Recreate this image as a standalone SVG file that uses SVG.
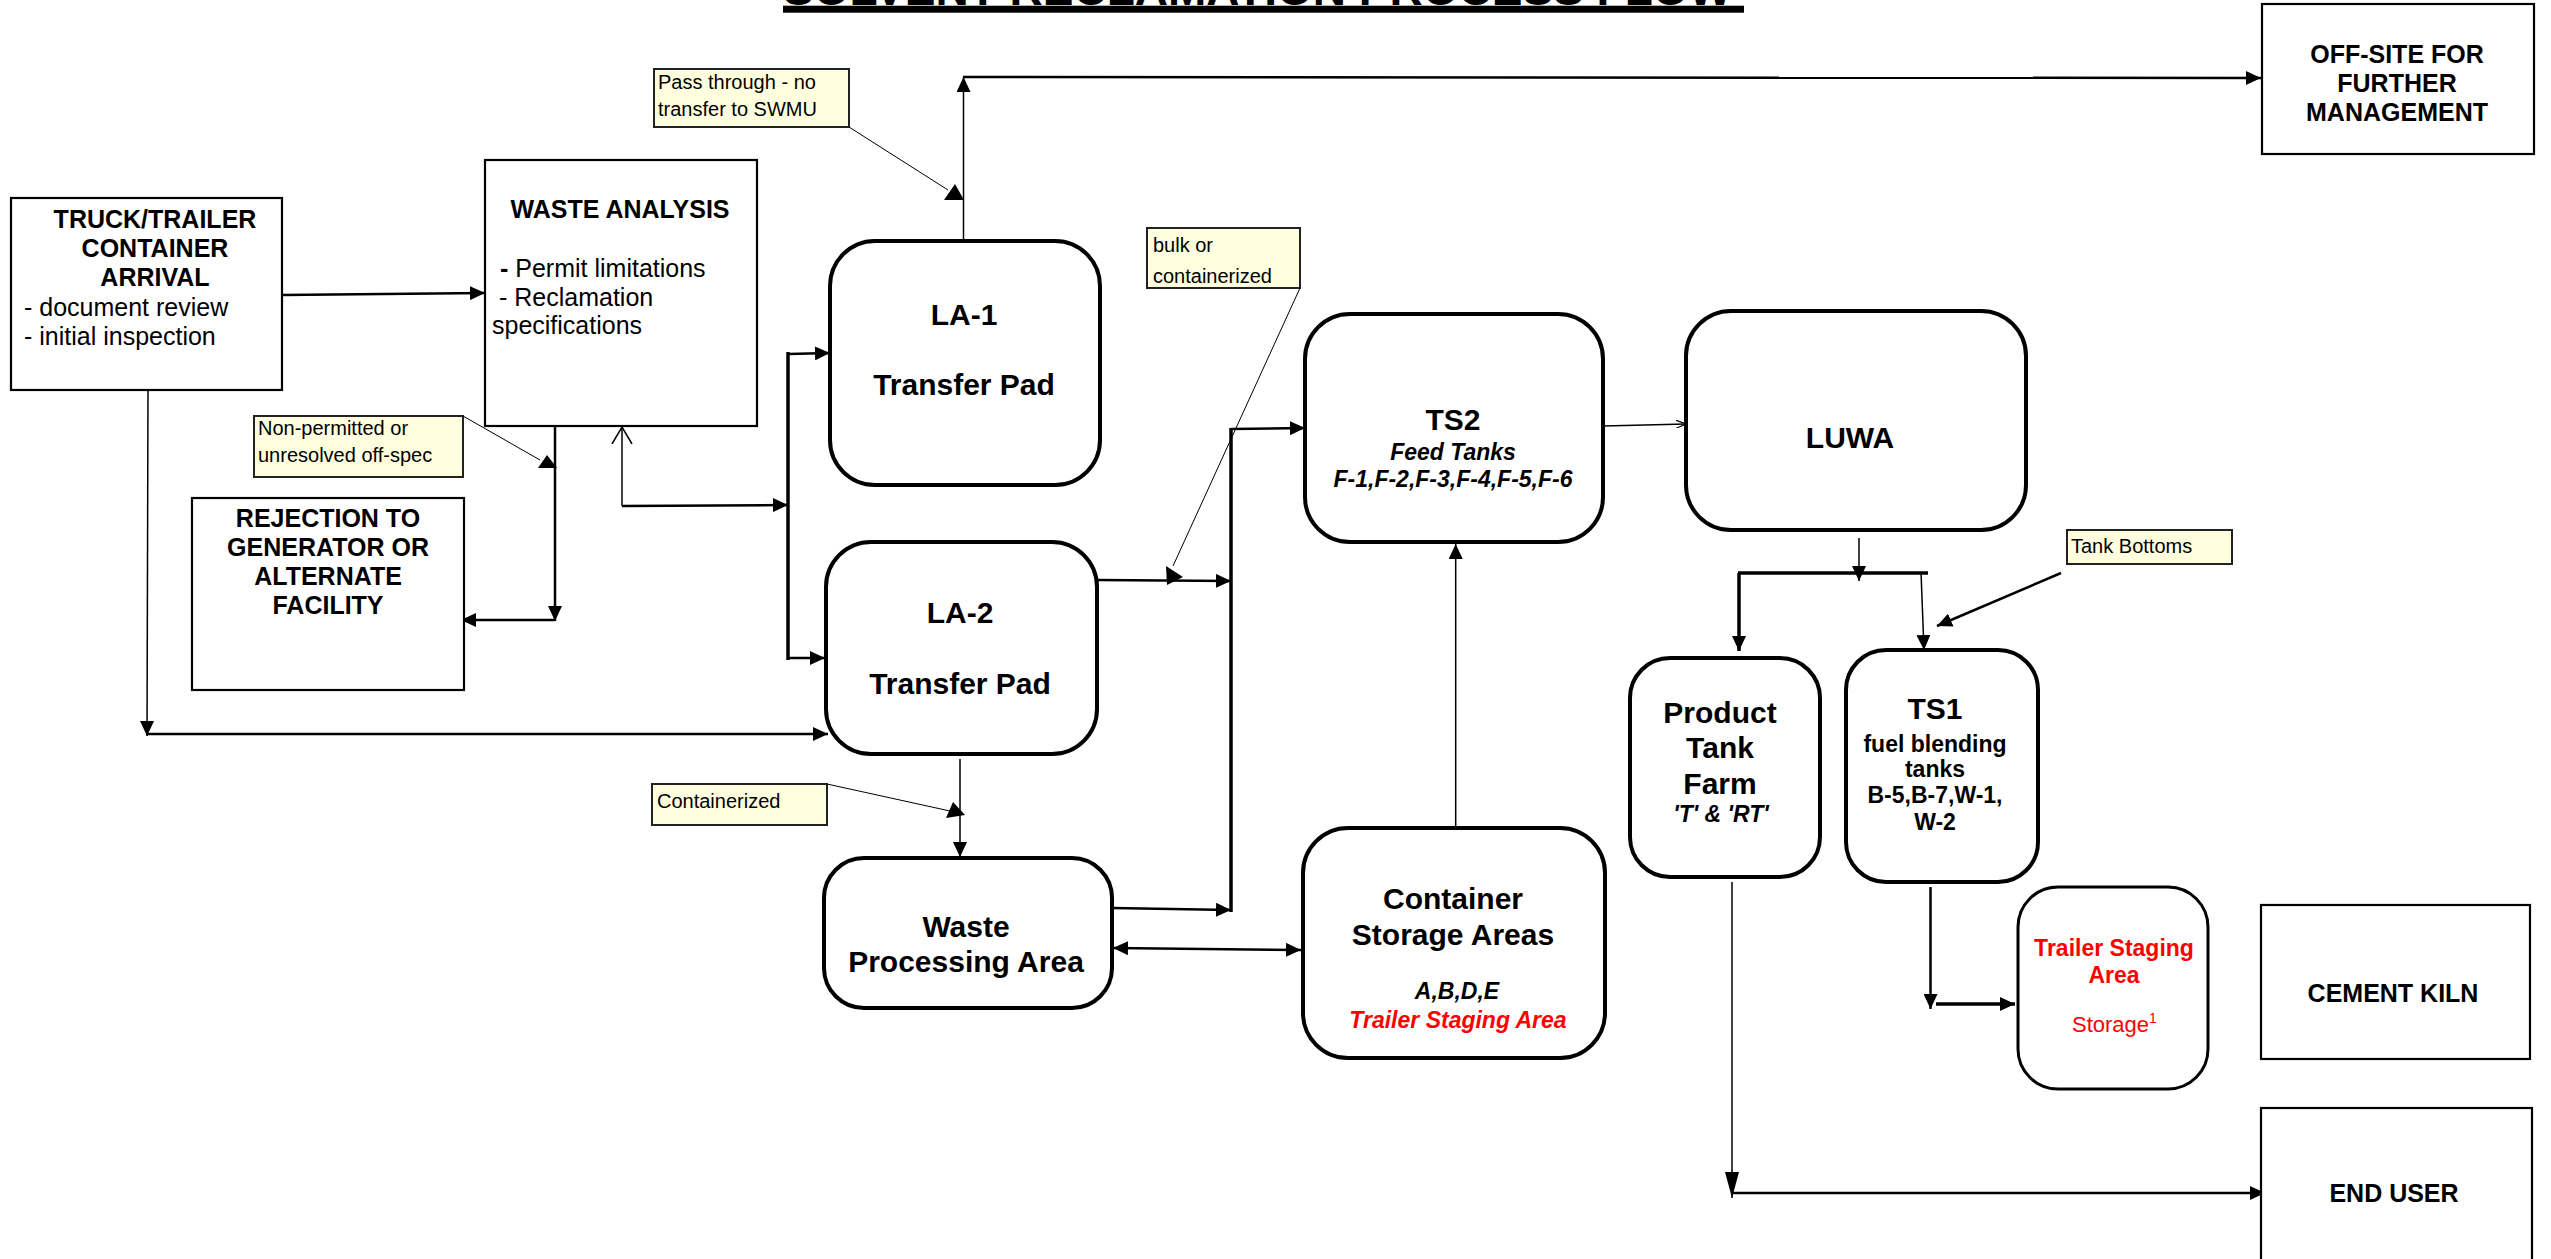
<svg xmlns="http://www.w3.org/2000/svg" width="2551" height="1259" viewBox="0 0 2551 1259">
  <style>
    .box { fill: #ffffff; stroke: #000000; stroke-width: 2.2; }
    .rnd { fill: #ffffff; stroke: #000000; stroke-width: 4; }
    .rnd2 { fill: #ffffff; stroke: #000000; stroke-width: 3; }
    .note { fill: #ffffe0; stroke: #222222; stroke-width: 2; }
    .lbl { font-family: "Liberation Sans", Arial, sans-serif; font-weight: bold; font-size: 25px; fill: #000; text-anchor: middle; }
    .big { font-family: "Liberation Sans", Arial, sans-serif; font-weight: bold; font-size: 30px; fill: #000; text-anchor: middle; }
    .sub { font-family: "Liberation Sans", Arial, sans-serif; font-weight: bold; font-size: 23px; fill: #000; text-anchor: middle; }
    .subi { font-family: "Liberation Sans", Arial, sans-serif; font-weight: bold; font-style: italic; font-size: 23px; fill: #000; text-anchor: middle; }
    .txt { font-family: "Liberation Sans", Arial, sans-serif; font-size: 25px; fill: #000; }
    .ntxt { font-family: "Liberation Sans", Arial, sans-serif; font-size: 20px; fill: #000; }
    .red { fill: #ff0000; }
    .thin { fill: none; stroke: #000; stroke-width: 1.5; }
    .med { fill: none; stroke: #000; stroke-width: 2.5; }
    .thick { fill: none; stroke: #000; stroke-width: 3.5; }
    .lead { fill: none; stroke: #000; stroke-width: 1; }
    .tri { fill: #000; }
  </style>
  <defs>
    <marker id="arr" viewBox="0 0 15 14" refX="15" refY="7" markerWidth="15" markerHeight="14" markerUnits="userSpaceOnUse" orient="auto-start-reverse">
      <path d="M0,0 L15,7 L0,14 z" fill="#000"/>
    </marker>
    <marker id="arrN" viewBox="0 0 26 14" refX="26" refY="7" markerWidth="26" markerHeight="14" markerUnits="userSpaceOnUse" orient="auto">
      <path d="M0,0 L26,7 L0,14 z" fill="#000"/>
    </marker>
    <marker id="arrS" viewBox="0 0 10 8" refX="10" refY="4" markerWidth="10" markerHeight="8" markerUnits="userSpaceOnUse" orient="auto">
      <path d="M0,0 L10,4 L0,8" fill="none" stroke="#000" stroke-width="1.2"/>
    </marker>
    <marker id="arrV" viewBox="0 0 17 22" refX="17" refY="11" markerWidth="17" markerHeight="22" markerUnits="userSpaceOnUse" orient="auto">
      <path d="M0,1 L17,11 L0,21" fill="none" stroke="#000" stroke-width="1.5"/>
    </marker>
  </defs>

  <!-- title, underlined, running off the top edge -->
  <g id="title">
    <text x="783" y="4.5" font-family="Liberation Sans, Arial, sans-serif" font-weight="bold" font-size="46">SOLVENT RECLAMATION PROCESS FLOW</text>
    <rect x="783" y="5.7" width="961" height="7" fill="#000"/>
  </g>

  <!-- connectors -->
  <g id="connectors">
    <!-- arrival to waste analysis -->
    <line class="med" x1="282" y1="295" x2="485" y2="293" marker-end="url(#arr)"/>
    <!-- arrival straight to LA-2 -->
    <line class="thin" x1="148" y1="390" x2="147" y2="736" marker-end="url(#arr)"/>
    <line class="med" x1="147" y1="734" x2="828" y2="734" marker-end="url(#arr)"/>
    <!-- waste analysis to rejection -->
    <line class="med" x1="555" y1="424" x2="555" y2="621" marker-end="url(#arr)"/>
    <line class="med" x1="555" y1="620" x2="461" y2="620" marker-end="url(#arr)"/>
    <!-- waste analysis to transfer pads -->
    <line class="thin" x1="622" y1="506" x2="622" y2="427" marker-end="url(#arrV)"/>
    <line class="med" x1="622" y1="506" x2="788" y2="505" marker-end="url(#arr)"/>
    <line class="thick" x1="788" y1="352" x2="788" y2="660"/>
    <line class="med" x1="788" y1="354" x2="830" y2="353" marker-end="url(#arr)"/>
    <line class="med" x1="788" y1="658" x2="825" y2="658" marker-end="url(#arr)"/>
    <!-- LA-1 pass through to off-site -->
    <line class="thin" x1="963.5" y1="239" x2="963.5" y2="77" marker-end="url(#arr)"/>
    <line class="med" x1="963" y1="77" x2="2261" y2="78" marker-end="url(#arr)"/>
    <!-- LA-2 to waste processing -->
    <line class="thin" x1="960" y1="759" x2="960" y2="857" marker-end="url(#arr)"/>
    <!-- LA-2 and waste processing to TS2 -->
    <line class="med" x1="1097" y1="580" x2="1231" y2="581" marker-end="url(#arr)"/>
    <line class="med" x1="1112" y1="908" x2="1231" y2="910" marker-end="url(#arr)"/>
    <line class="thick" x1="1231" y1="428" x2="1231" y2="912"/>
    <line class="med" x1="1231" y1="429" x2="1305" y2="428" marker-end="url(#arr)"/>
    <!-- waste processing and container storage -->
    <line class="med" x1="1113" y1="948" x2="1301" y2="950" marker-start="url(#arr)" marker-end="url(#arr)"/>
    <!-- container storage up to TS2 -->
    <line class="thin" x1="1455.7" y1="828" x2="1455.7" y2="544" marker-end="url(#arr)"/>
    <!-- TS2 to LUWA -->
    <line class="thin" x1="1603" y1="426" x2="1686" y2="424" marker-end="url(#arrS)"/>
    <!-- LUWA split -->
    <line class="thin" x1="1859" y1="538" x2="1859" y2="581" marker-end="url(#arr)"/>
    <line class="thick" x1="1738" y1="573" x2="1928" y2="573"/>
    <line class="thick" x1="1739" y1="573" x2="1739" y2="651" marker-end="url(#arr)"/>
    <line class="thin" x1="1921" y1="572" x2="1924" y2="650" marker-end="url(#arr)"/>
    <!-- tank bottoms into TS1 -->
    <line class="med" x1="2061" y1="573" x2="1937" y2="626" marker-end="url(#arr)"/>
    <!-- TS1 to trailer staging -->
    <line class="med" x1="1930.5" y1="887" x2="1930.5" y2="1009" marker-end="url(#arr)"/>
    <line class="thick" x1="1936" y1="1004" x2="2015" y2="1004" marker-end="url(#arr)"/>
    <!-- product tank farm to end user -->
    <line class="thin" x1="1732" y1="882" x2="1732" y2="1198" marker-end="url(#arrN)"/>
    <line class="med" x1="1732" y1="1193" x2="2265" y2="1193" marker-end="url(#arr)"/>
  </g>

  <!-- callout notes with their pointers -->
  <g id="note-pass-through">
    <rect class="note" x="654" y="69" width="195" height="58"/>
    <text class="ntxt" x="658" y="89">Pass through - no</text>
    <text class="ntxt" x="658" y="116">transfer to SWMU</text>
    <line class="lead" x1="849" y1="127" x2="948" y2="190"/>
    <polygon class="tri" points="944,200 964,200 955,184"/>
  </g>
  <g id="note-non-permitted">
    <rect class="note" x="254" y="416" width="209" height="61"/>
    <text class="ntxt" x="258" y="435">Non-permitted or</text>
    <text class="ntxt" x="258" y="462">unresolved off-spec</text>
    <line class="lead" x1="463" y1="416" x2="540" y2="460"/>
    <polygon class="tri" points="538,468 557,468 547,455"/>
  </g>
  <g id="note-containerized">
    <rect class="note" x="652" y="784" width="175" height="41"/>
    <text class="ntxt" x="657" y="808" font-size="22">Containerized</text>
    <line class="lead" x1="827" y1="784" x2="950" y2="811"/>
    <polygon class="tri" points="946,818 965,815 953,802"/>
  </g>
  <g id="note-bulk">
    <rect class="note" x="1147" y="228" width="153" height="60"/>
    <text class="ntxt" x="1153" y="252" font-size="22">bulk or</text>
    <text class="ntxt" x="1153" y="283" font-size="22">containerized</text>
    <line class="lead" x1="1300" y1="288" x2="1173" y2="566"/>
    <polygon class="tri" points="1166,566 1167,585 1183,577"/>
  </g>
  <g id="note-tank-bottoms">
    <rect class="note" x="2067" y="530" width="165" height="34"/>
    <text class="ntxt" x="2071" y="553" font-size="22">Tank Bottoms</text>
  </g>

  <!-- nodes -->
  <g id="truck-arrival">
    <rect class="box" x="11" y="198" width="271" height="192"/>
    <text class="lbl" x="155" y="228">TRUCK/TRAILER</text>
    <text class="lbl" x="155" y="257">CONTAINER</text>
    <text class="lbl" x="155" y="286">ARRIVAL</text>
    <text class="txt" x="24" y="316">- document review</text>
    <text class="txt" x="24" y="345">- initial inspection</text>
  </g>
  <g id="waste-analysis">
    <rect class="box" x="485" y="160" width="272" height="266"/>
    <text class="lbl" x="620" y="218" font-size="23">WASTE ANALYSIS</text>
    <text class="txt" x="500" y="277"><tspan font-weight="bold">-</tspan> Permit limitations</text>
    <text class="txt" x="499" y="306">- Reclamation</text>
    <text class="txt" x="492" y="334">specifications</text>
  </g>
  <g id="rejection">
    <rect class="box" x="192" y="498" width="272" height="192"/>
    <text class="lbl" x="328" y="527">REJECTION TO</text>
    <text class="lbl" x="328" y="556">GENERATOR OR</text>
    <text class="lbl" x="328" y="585">ALTERNATE</text>
    <text class="lbl" x="328" y="614">FACILITY</text>
  </g>
  <g id="la-1">
    <rect class="rnd" x="830" y="241" width="270" height="244" rx="45" ry="45"/>
    <text class="big" x="964" y="325">LA-1</text>
    <text class="big" x="964" y="395">Transfer Pad</text>
  </g>
  <g id="la-2">
    <rect class="rnd" x="826" y="542" width="271" height="212" rx="45" ry="45"/>
    <text class="big" x="960" y="623">LA-2</text>
    <text class="big" x="960" y="694">Transfer Pad</text>
  </g>
  <g id="waste-processing">
    <rect class="rnd" x="824" y="858" width="288" height="150" rx="40" ry="40"/>
    <text class="big" x="966" y="937">Waste</text>
    <text class="big" x="966" y="972">Processing Area</text>
  </g>
  <g id="ts2">
    <rect class="rnd" x="1305" y="314" width="298" height="228" rx="45" ry="45"/>
    <text class="big" x="1453" y="430">TS2</text>
    <text class="subi" x="1453" y="460">Feed Tanks</text>
    <text class="subi" x="1453" y="487">F-1,F-2,F-3,F-4,F-5,F-6</text>
  </g>
  <g id="container-storage">
    <rect class="rnd" x="1303" y="828" width="302" height="230" rx="45" ry="45"/>
    <text class="big" x="1453" y="909">Container</text>
    <text class="big" x="1453" y="945">Storage Areas</text>
    <text class="subi" x="1457" y="999">A,B,D,E</text>
    <text class="subi red" x="1458" y="1028">Trailer Staging Area</text>
  </g>
  <g id="luwa">
    <rect class="rnd" x="1686" y="311" width="340" height="219" rx="45" ry="45"/>
    <text class="big" x="1850" y="448">LUWA</text>
  </g>
  <g id="product-tank-farm">
    <rect class="rnd" x="1630" y="658" width="190" height="219" rx="40" ry="40"/>
    <text class="big" x="1720" y="723">Product</text>
    <text class="big" x="1720" y="758">Tank</text>
    <text class="big" x="1720" y="794">Farm</text>
    <text class="subi" x="1721" y="822" font-size="22">'T' &amp; 'RT'</text>
  </g>
  <g id="ts1">
    <rect class="rnd" x="1846" y="650" width="192" height="232" rx="40" ry="40"/>
    <text class="big" x="1935" y="719">TS1</text>
    <text class="sub" x="1935" y="752" font-size="22">fuel blending</text>
    <text class="sub" x="1935" y="777" font-size="22">tanks</text>
    <text class="sub" x="1935" y="803">B-5,B-7,W-1,</text>
    <text class="sub" x="1935" y="830">W-2</text>
  </g>
  <g id="trailer-staging">
    <rect class="rnd2" x="2018" y="887" width="190" height="202" rx="40" ry="40"/>
    <text class="sub red" x="2114" y="956">Trailer Staging</text>
    <text class="sub red" x="2114" y="983">Area</text>
    <text x="2072" y="1032" font-family="Liberation Sans, Arial, sans-serif" font-size="22" fill="#ff0000">Storage<tspan font-size="14" dy="-9">1</tspan></text>
  </g>
  <g id="off-site">
    <rect class="box" x="2262" y="4" width="272" height="150"/>
    <text class="lbl" x="2397" y="63">OFF-SITE FOR</text>
    <text class="lbl" x="2397" y="92">FURTHER</text>
    <text class="lbl" x="2397" y="121">MANAGEMENT</text>
  </g>
  <g id="cement-kiln">
    <rect class="box" x="2261" y="905" width="269" height="154"/>
    <text class="lbl" x="2393" y="1002">CEMENT KILN</text>
  </g>
  <g id="end-user">
    <rect class="box" x="2261" y="1108" width="271" height="160"/>
    <text class="lbl" x="2394" y="1202">END USER</text>
  </g>
</svg>
